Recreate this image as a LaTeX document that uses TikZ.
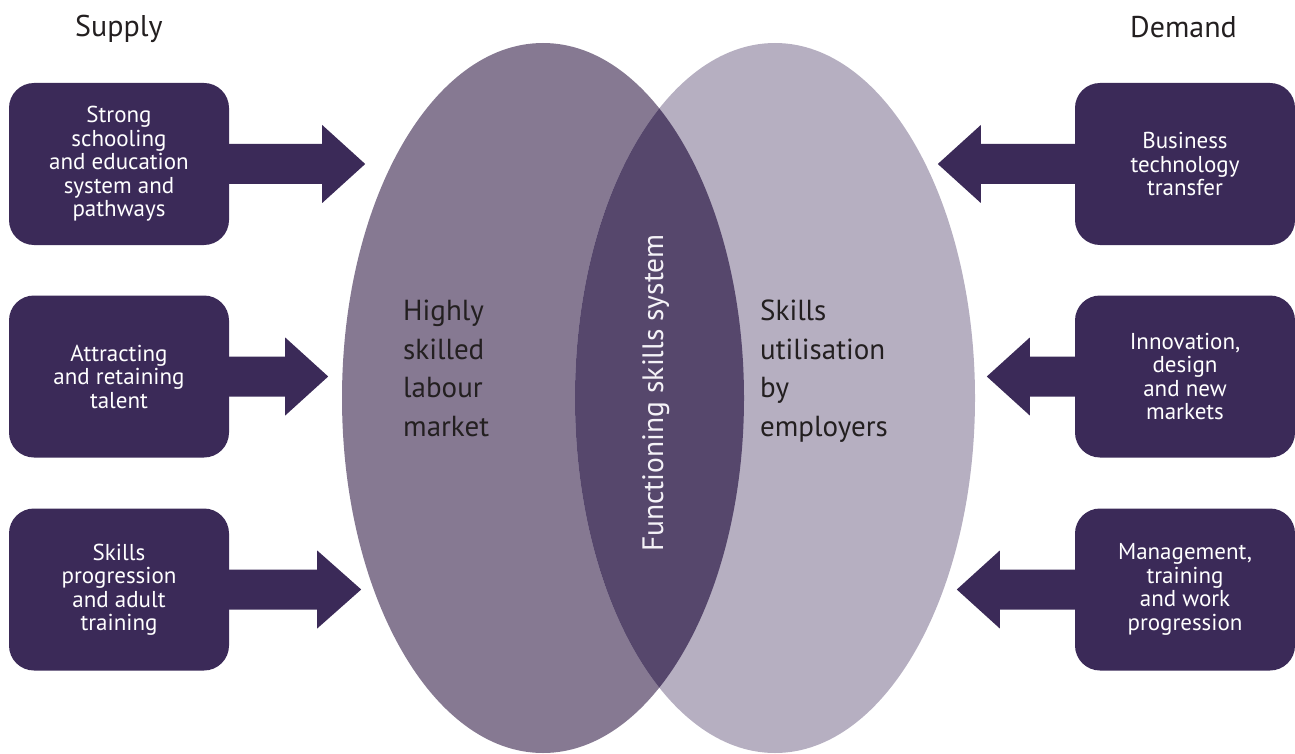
\documentclass[tikz,border=0pt]{standalone}
\usepackage{fontspec}
\setmainfont{PT Sans}
\usetikzlibrary{calc}
\definecolor{boxc}{HTML}{3B2A58}
\definecolor{leftc}{HTML}{867992}
\definecolor{rightc}{HTML}{B6AFC1}
\definecolor{midc}{HTML}{56476C}
\definecolor{inkc}{HTML}{231F20}
\definecolor{lightc}{HTML}{F4F2F7}
\begin{document}
\begin{tikzpicture}[x=1pt,y=-1pt,
  box/.style={fill=boxc, rounded corners=25pt, minimum width=220pt, minimum height=162pt,
    inner sep=0pt, align=center, text=white, font=\fontsize{23}{23.5}\selectfont},
  arrowshape/.style={fill=boxc},
  head/.style={text=inkc, font=\fontsize{30}{34}\selectfont, inner sep=0pt, anchor=base west},
  circlabel/.style={text=inkc, font=\fontsize{29}{38.5}\selectfont, inner sep=0pt, align=left, anchor=north west},
  midlabel/.style={text=lightc, font=\fontsize{29.5}{34}\selectfont, inner sep=0pt, rotate=90, anchor=base}]
\useasboundingbox (0,0) rectangle (1295,754);

% ellipses
\fill[leftc] (543,398) ellipse [x radius=201pt, y radius=355pt];
\fill[rightc] (775,398) ellipse [x radius=200pt, y radius=355pt];
\begin{scope}
  \clip (543,398) ellipse [x radius=201pt, y radius=355pt];
  \fill[midc] (775,398) ellipse [x radius=200pt, y radius=355pt];
\end{scope}

% headings
\node[head] (supply) at (75,37) {Supply};
\node[head] (demand) at (1130,38) {Demand};

% boxes
\node[box] (s1) at (119,164) {Strong\\schooling\\and education\\system and\\pathways};
\node[box] (s2) at (119,376.5) {Attracting\\and retaining\\talent};
\node[box] (s3) at (119,589.5) {Skills\\progression\\and adult\\training};
\node[box] (d1) at (1185,164) {Business\\technology\\transfer};
\node[box] (d2) at (1185,376.5) {Innovation,\\design\\and new\\markets};
\node[box] (d3) at (1185,589.5) {Management,\\training\\and work\\progression};

% arrows (supply: pointing right)
\fill[arrowshape] ($(s1.east)+(-2,-20)$) -- ++(95,0) -- ++(0,-19) -- ++(43,39) -- ++(-43,39) -- ++(0,-19) -- ++(-95,0) -- cycle;
\fill[arrowshape] ($(s2.east)+(-2,-20)$) -- ++(58,0) -- ++(0,-19) -- ++(43,39) -- ++(-43,39) -- ++(0,-19) -- ++(-58,0) -- cycle;
\fill[arrowshape] ($(s3.east)+(-2,-20)$) -- ++(90,0) -- ++(0,-19) -- ++(44,39) -- ++(-44,39) -- ++(0,-19) -- ++(-90,0) -- cycle;
% arrows (demand: pointing left)
\fill[arrowshape] ($(d1.west)+(2,-20)$) -- ++(-96,0) -- ++(0,-19) -- ++(-43,39) -- ++(43,39) -- ++(0,-19) -- ++(96,0) -- cycle;
\fill[arrowshape] ($(d2.west)+(2,-20)$) -- ++(-47,0) -- ++(0,-19) -- ++(-43,39) -- ++(43,39) -- ++(0,-19) -- ++(47,0) -- cycle;
\fill[arrowshape] ($(d3.west)+(2,-20)$) -- ++(-77,0) -- ++(0,-19) -- ++(-43,39) -- ++(43,39) -- ++(0,-19) -- ++(77,0) -- cycle;

% ellipse labels
\node[circlabel] (lab) at (403,300) {Highly\\skilled\\labour\\market};
\node[circlabel] (emp) at (760,300) {Skills\\utilisation\\by\\employers};
\node[midlabel] (fss) at (663,393) {Functioning skills system};
\end{tikzpicture}
\end{document}
